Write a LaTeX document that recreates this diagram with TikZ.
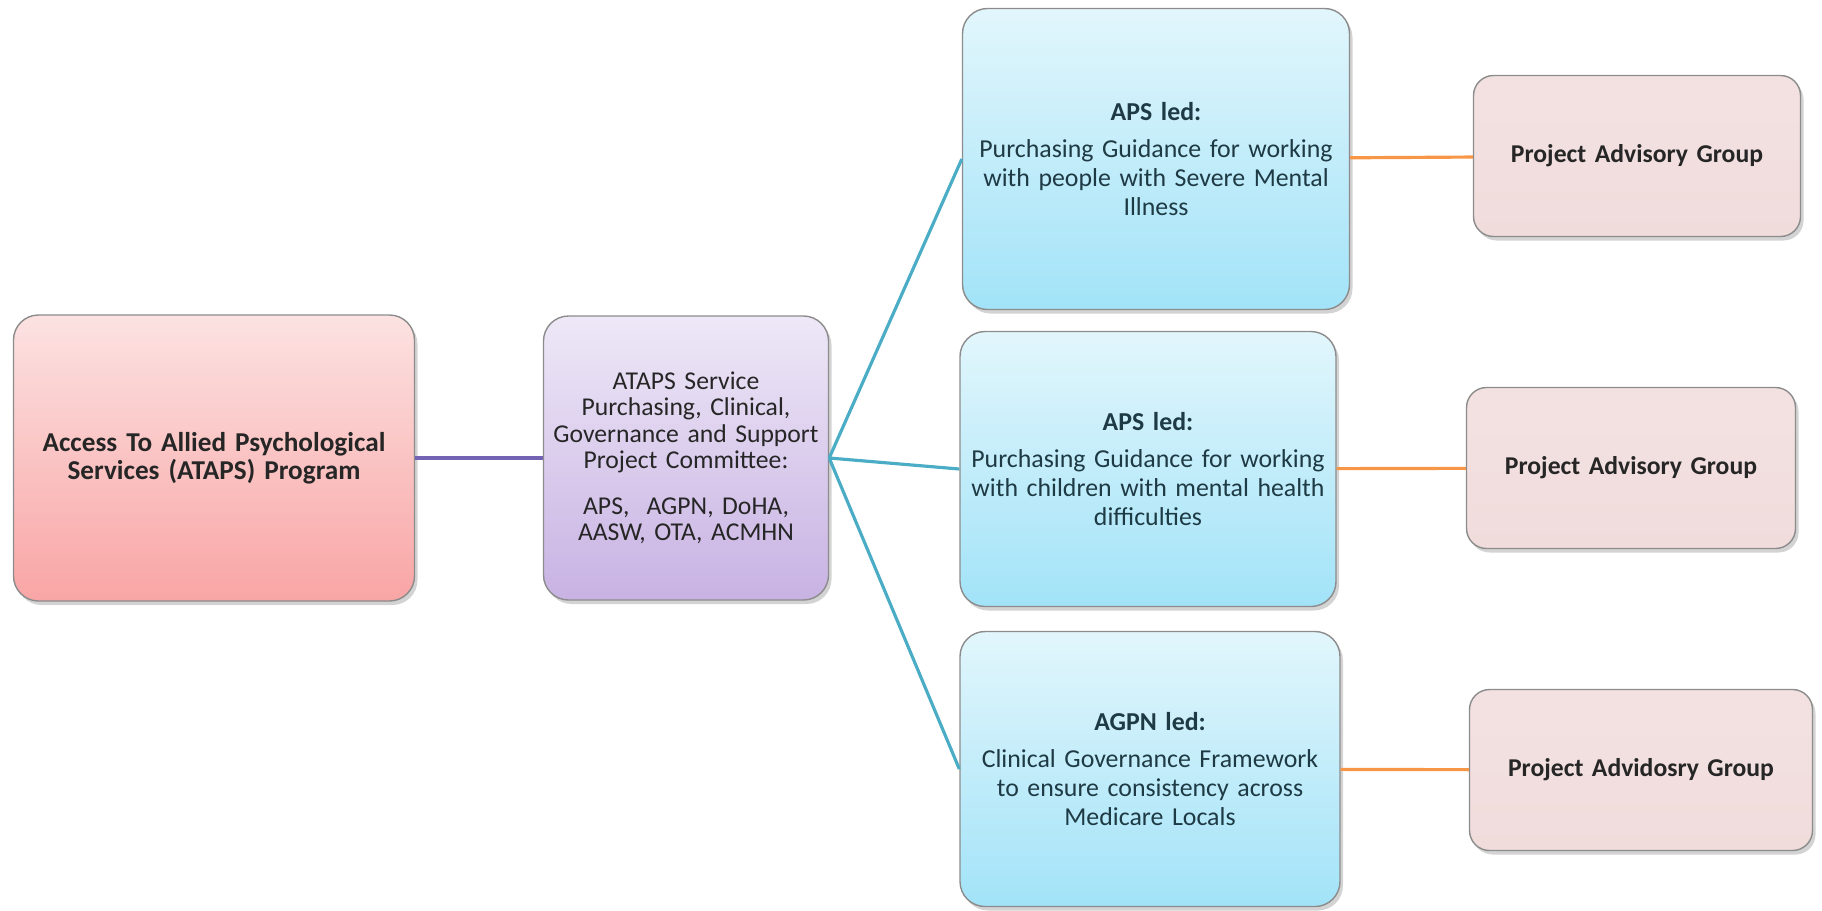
\documentclass[tikz,border=0pt]{standalone}
\usepackage{fontspec}
\setmainfont{Carlito}
\usetikzlibrary{shadows}

\definecolor{progtop}{HTML}{FCE2E2}
\definecolor{progbot}{HTML}{F9A5A5}
\definecolor{comtop}{HTML}{EEE8F7}
\definecolor{combot}{HTML}{C8B2E3}
\definecolor{ledtop}{HTML}{E2F6FC}
\definecolor{ledbot}{HTML}{A2E3F8}
\definecolor{advfill}{HTML}{F1DCDC}
\definecolor{boxline}{HTML}{8C8C8C}
\definecolor{purpleline}{HTML}{7463B4}
\definecolor{cyanline}{HTML}{4BACC6}
\definecolor{orangeline}{HTML}{F79646}
\definecolor{txt}{HTML}{262626}
\definecolor{ledtxt}{HTML}{1E3A44}

\begin{document}
\begin{tikzpicture}[x=1cm,y=1cm,
    every node/.style={text=txt},
    box/.style={draw=boxline, line width=0.8pt, rounded corners=0.5cm, align=center,
        inner sep=0pt, drop shadow={shadow xshift=0.06cm, shadow yshift=-0.08cm, opacity=0.35}},
    progbox/.style={box, top color=progtop, bottom color=progbot,
        minimum width=8.02cm, minimum height=5.72cm, text width=7.8cm, font=\fontsize{15.5}{16}\selectfont\bfseries},
    combox/.style={box, top color=comtop, bottom color=combot,
        minimum width=5.7cm, minimum height=5.68cm, text width=5.6cm, font=\fontsize{14.6}{15}\selectfont},
    ledbox/.style={box, top color=ledtop, bottom color=ledbot, text=ledtxt,
        minimum height=5.5cm, text width=7.5cm, font=\fontsize{14.7}{16.5}\selectfont},
    advbox/.style={box, rounded corners=0.4cm, top color=advfill!85!white, bottom color=advfill,
        minimum height=3.22cm, text width=6.5cm, font=\fontsize{14.6}{16}\selectfont\bfseries},
    link/.style={line width=1.8pt}
  ]

  \useasboundingbox (0,0) rectangle (36.44,-18.2);

  \node[progbox] (prog) at (4.28,-9.16) {Access To Allied Psychological\\Services (ATAPS) Program};
  \node[combox] (com) at (13.72,-9.16) {ATAPS Service\\Purchasing, Clinical,\\Governance and Support\\Project Committee:\\[11pt]APS,\ \ AGPN, DoHA,\\AASW, OTA, ACMHN};

  \node[ledbox, minimum width=7.74cm, minimum height=6.02cm] (smi) at (23.12,-3.18)
    {\textbf{APS led:}\\[5pt]Purchasing Guidance for working\\with people with Severe Mental\\Illness};
  \node[ledbox, minimum width=7.52cm] (kids) at (22.96,-9.38)
    {\textbf{APS led:}\\[5pt]Purchasing Guidance for working\\with children with mental health\\difficulties};
  \node[ledbox, minimum width=7.6cm] (gov) at (23.0,-15.38)
    {\textbf{AGPN led:}\\[5pt]Clinical Governance Framework\\to ensure consistency across\\Medicare Locals};

  \node[advbox, minimum width=6.54cm] (adv1) at (32.74,-3.12) {Project Advisory Group};
  \node[advbox, minimum width=6.58cm] (adv2) at (32.62,-9.36) {Project Advisory Group};
  \node[advbox, minimum width=6.86cm] (adv3) at (32.82,-15.4) {Project Advidosry Group};

  \path[link]
  (prog) edge [purpleline] (com)

  (com.east) edge [cyanline] (smi.west)
  (com.east) edge [cyanline] (kids.west)
  (com.east) edge [cyanline] (gov.west)

  (smi) edge [orangeline] (adv1)
  (kids) edge [orangeline] (adv2)
  (gov) edge [orangeline] (adv3)
  ;
\end{tikzpicture}
\end{document}
